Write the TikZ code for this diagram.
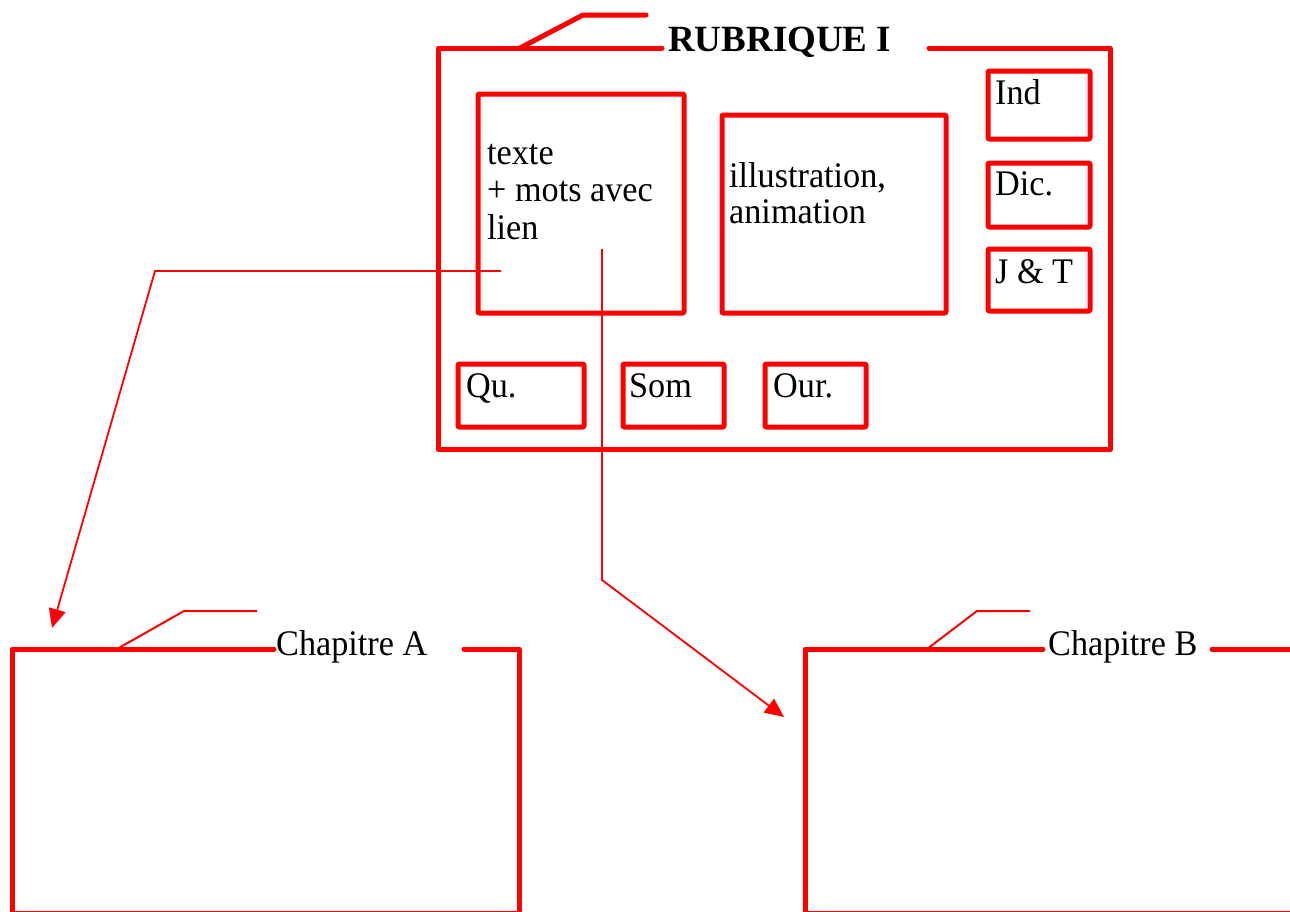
\documentclass[tikz,border=0pt]{standalone}
\usepackage{fontspec}
\setmainfont{Liberation Serif}
\newfontfamily\condfont[FakeStretch=0.95]{Liberation Serif}
\usetikzlibrary{arrows.meta,calc}
\begin{document}
\begin{tikzpicture}[x=1pt,y=-1pt,
  frame/.style={draw=red, line width=5pt, line join=round, line cap=round},
  box/.style={draw=red, line width=5pt, line join=round, rounded corners=1pt, anchor=north west, inner sep=0pt, outer sep=0pt},
  tabline/.style={draw=red, line width=2pt},
  conn/.style={draw=red, line width=1.8pt, -{Triangle[length=19pt,width=17pt]}},
  lbl/.style={font=\condfont\fontsize{36}{37.5}\selectfont, anchor=base west, inner sep=0pt, text=black},
  titlelbl/.style={font=\bfseries\fontsize{37}{40}\selectfont, anchor=base west, inner sep=0pt, text=black}
]
\useasboundingbox (0,0) rectangle (1290,911);

% ---- main frame RUBRIQUE I
\draw[frame] (662,48) -- (438,48) -- (438,449) -- (1110,449) -- (1110,48) -- (929,48);
\draw[frame] (520,48) -- (583,15) -- (646,15);
\node[titlelbl] (rub) at (668,51) {RUBRIQUE I};

% ---- inner boxes
\node[box, minimum width=206pt, minimum height=219pt] (txt) at (478,94) {};
\node[box, minimum width=224pt, minimum height=198pt] (ill) at (722,115) {};
\node[box, minimum width=102pt, minimum height=68pt] (ind) at (988,71) {};
\node[box, minimum width=102pt, minimum height=64pt] (dic) at (988,163) {};
\node[box, minimum width=102pt, minimum height=62pt] (jt) at (988,249) {};
\node[box, minimum width=126pt, minimum height=63pt] (qu) at (458,364) {};
\node[box, minimum width=101pt, minimum height=63pt] (som) at (623,364) {};
\node[box, minimum width=101pt, minimum height=63pt] (our) at (765,364) {};

% ---- labels
\node[lbl] (t1) at (487,164) {texte};
\node[lbl] (t2) at (487,201.5) {+ mots avec};
\node[lbl] (t3) at (487,239) {lien};
\node[lbl] (i1) at (729,187) {illustration,};
\node[lbl] (i2) at (729,223) {animation};
\node[lbl] (indl) at (995,104) {Ind};
\node[lbl] (dicl) at (995,195) {Dic.};
\node[lbl] (jtl) at (995,283) {J \& T};
\node[lbl] (qul) at (466,397) {Qu.};
\node[lbl] (soml) at (629,397) {Som};
\node[lbl] (ourl) at (773,397) {Our.};

% ---- Chapitre A
\draw[frame] (274,649) -- (12,649) -- (12,913.5) -- (519,913.5) -- (519,649) -- (464,649);
\draw[tabline] (117,649) -- (184,611) -- (257,611);
\node[lbl] (chA) at (276,655) {Chapitre A};

% ---- Chapitre B
\draw[frame] (1043,649) -- (805,649) -- (805,913.5) -- (1300,913.5);
\draw[frame] (1212,649) -- (1300,649);
\draw[tabline] (927,649) -- (977,611) -- (1030,611);
\node[lbl] (chB) at (1048,655) {Chapitre B};

% ---- connectors
\coordinate (s1) at (501,271);
\coordinate (c1) at (155,271);
\coordinate (tA) at (52,628);
\coordinate (s2) at (602,249);
\coordinate (c2) at (602,580);
\coordinate (tB) at (784,717);
\draw[conn] (s1) -- (c1) -- (tA);
\draw[conn] (s2) -- (c2) -- (tB);
\end{tikzpicture}
\end{document}
